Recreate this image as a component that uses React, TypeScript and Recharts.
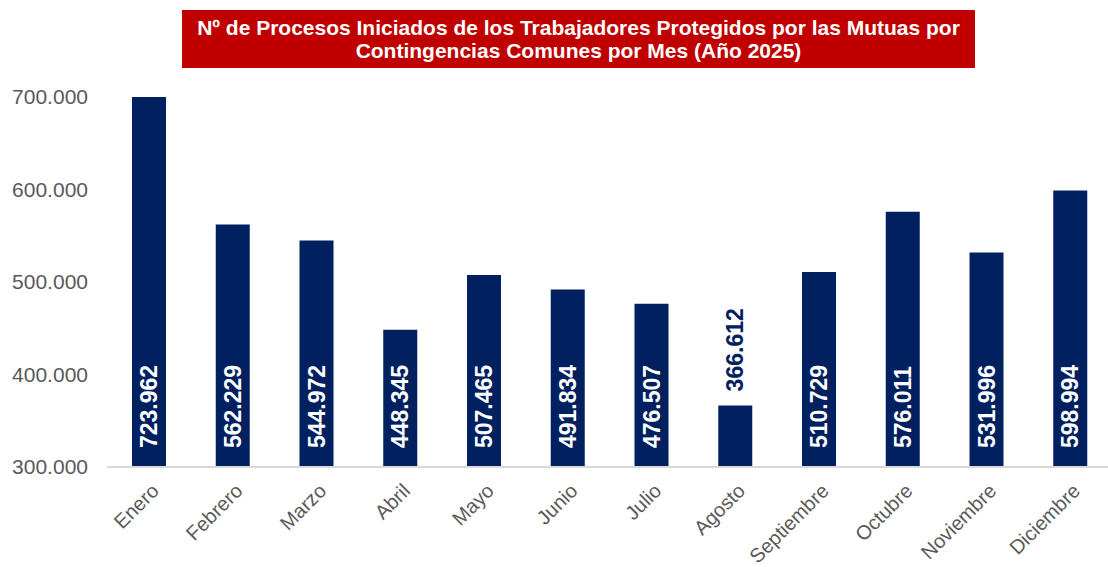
import React from "react";
import { BarChart, Bar, XAxis, YAxis, LabelList } from "recharts";

const months = ["Enero", "Febrero", "Marzo", "Abril", "Mayo", "Junio", "Julio", "Agosto", "Septiembre", "Octubre", "Noviembre", "Diciembre"];
const procesos = [723962, 562229, 544972, 448345, 507465, 491834, 476507, 366612, 510729, 576011, 531996, 598994];
const yTicks = [300000, 400000, 500000, 600000, 700000];
const titleLines = ["Nº de Procesos Iniciados de los Trabajadores Protegidos por las Mutuas por", "Contingencias Comunes por Mes (Año 2025)"];

const data = months.map((m, i) => ({ month: m, value: procesos[i] }));

const FONT = "'Liberation Sans', Arial, sans-serif";
const NAVY = "#002060";
const GRAY = "#595959";

const fmt = (v: number) => String(Math.round(v)).replace(/\B(?=(\d{3})+(?!\d))/g, ".");

const XTick = (props: any) => {
  const { x, y, payload } = props;
  return (
    <text
      x={0}
      y={0}
      transform={`translate(${x + 1},${y + 15}) rotate(-45)`}
      textAnchor="end"
      dominantBaseline="hanging"
      fill={GRAY}
      fontSize={20}
      fontFamily={FONT}
    >
      {payload.value}
    </text>
  );
};

const BarLabel = (props: any) => {
  const { x, y, width, height, value } = props;
  const cx = x + width / 2;
  const base = y + height;
  const inside = height > 110;
  const ay = inside ? base - 19 : y - 14;
  return (
    <text
      x={0}
      y={0}
      transform={`translate(${cx},${ay}) rotate(-90)`}
      textAnchor="start"
      dominantBaseline="central"
      fill={inside ? "#ffffff" : NAVY}
      fontSize={23}
      fontWeight="bold"
      fontFamily={FONT}
    >
      {fmt(value)}
    </text>
  );
};

export default function App() {
  return (
    <div style={{ position: "absolute", left: 0, top: 0, width: 1108, height: 567, overflow: "hidden", background: "#fff" }}>
      <div
        style={{
          position: "absolute",
          left: 182,
          top: 10,
          width: 793,
          height: 58,
          background: "#c00000",
          color: "#fff",
          fontFamily: FONT,
          fontWeight: "bold",
          fontSize: 21,
          lineHeight: "23px",
          textAlign: "center",
          boxSizing: "border-box",
          paddingTop: 6,
          whiteSpace: "nowrap",
        }}
      >
        {titleLines.map((l, i) => (
          <div key={i}>{l}</div>
        ))}
      </div>
      <BarChart
        width={1116}
        height={567}
        data={data}
        margin={{ top: 97, right: 4, bottom: 0, left: 0 }}
      >
        <YAxis
          type="number"
          domain={[300000, 700000]}
          ticks={yTicks}
          allowDataOverflow
          axisLine={false}
          tickLine={false}
          tickSize={0}
          tickMargin={19}
          width={107}
          tickFormatter={fmt}
          tick={{ fill: GRAY, fontSize: 21, fontFamily: FONT }}
        />
        <XAxis
          dataKey="month"
          interval={0}
          tickLine={false}
          tickSize={0}
          tickMargin={0}
          axisLine={{ stroke: "#d9d9d9", strokeWidth: 2 }}
          tick={<XTick />}
          height={100}
        />
        <Bar dataKey="value" fill={NAVY} barSize={34} isAnimationActive={false}>
          <LabelList dataKey="value" content={<BarLabel />} />
        </Bar>
      </BarChart>
    </div>
  );
}
